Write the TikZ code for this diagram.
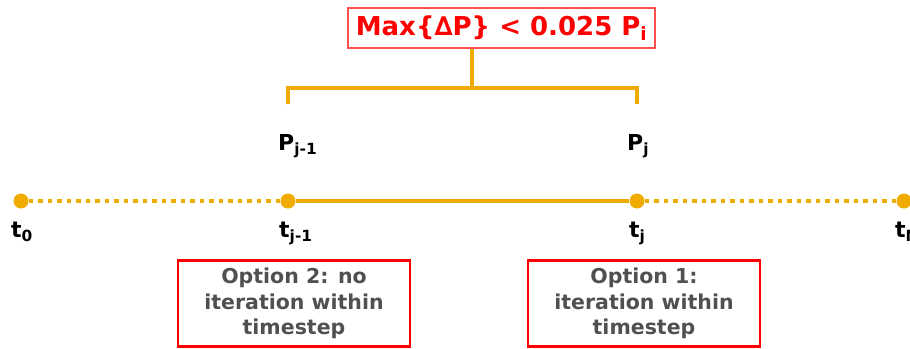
\documentclass[tikz,border=0pt]{standalone}
\usepackage{fontspec}
\setmainfont{DejaVu Sans}
\usetikzlibrary{positioning}
\definecolor{tline}{RGB}{240,171,0}
\definecolor{limred}{RGB}{255,0,0}
\definecolor{limborder}{RGB}{255,80,80}
\definecolor{optgray}{RGB}{80,80,80}

\begin{document}
\begin{tikzpicture}[x=1pt, y=-1pt,
  dot/.style={circle, fill=tline, inner sep=0pt, minimum size=15pt},
  tlabel/.style={anchor=base west, inner sep=0pt, font=\bfseries\fontsize{22}{26}\selectfont},
  solidline/.style={draw=tline, line width=4.5pt},
  dottedline/.style={draw=tline, line width=4.5pt, dash pattern=on 4.5pt off 5pt},
  limbox/.style={draw=limborder, line width=1.2pt, text=limred, minimum width=307pt, minimum height=40pt, inner sep=0pt, font=\bfseries\fontsize{26}{29}\selectfont},
  optbox/.style={draw=limred, line width=2.2pt, text=optgray, minimum width=232pt, minimum height=86pt, align=center, inner sep=0pt, font=\bfseries\fontsize{20.5}{25.5}\selectfont}]
  \useasboundingbox (0,0) rectangle (910,348);
  \clip (0,0) rectangle (910,348);

  % time axis
  \node[dot] (t0) at (21,201) {};
  \node[dot] (tj1) at (288,201) {};
  \node[dot] (tj) at (637,201) {};
  \node[dot] (tN) at (904,201) {};
  \path[dottedline] (t0) -- (tj1);
  \path[solidline] (tj1) -- (tj);
  \path[dottedline] (tj) -- (tN);

  % labels
  \node[tlabel] (lt0) at (11,237) {t\textsubscript{0}};
  \node[tlabel] (ltj1) at (279,237) {t\textsubscript{j-1}};
  \node[tlabel] (ltj) at (629,237) {t\textsubscript{j}};
  \node[tlabel] (ltN) at (895,237) {t\textsubscript{N}};
  \node[tlabel] (lpj1) at (278,150) {P\textsubscript{j-1}};
  \node[tlabel] (lpj) at (627,150) {P\textsubscript{j}};

  % convergence limit
  \node[limbox] (limit) at (501.5,28) {Max\{∆P\} < 0.025 P\textsubscript{i}};
  \coordinate (brL) at (288,104);
  \coordinate (brR) at (637,104);
  \coordinate (stem) at (472,88);
  \path[solidline] (brL) -- ++(0,-16) -| (brR);
  \path[solidline] (stem) -- (stem |- limit.south);

  % options
  \node[optbox] (opt2) at (294,303.5) {Option 2: no\\iteration within\\timestep};
  \node[optbox] (opt1) at (644,303.5) {Option 1:\\iteration within\\timestep};
\end{tikzpicture}
\end{document}
